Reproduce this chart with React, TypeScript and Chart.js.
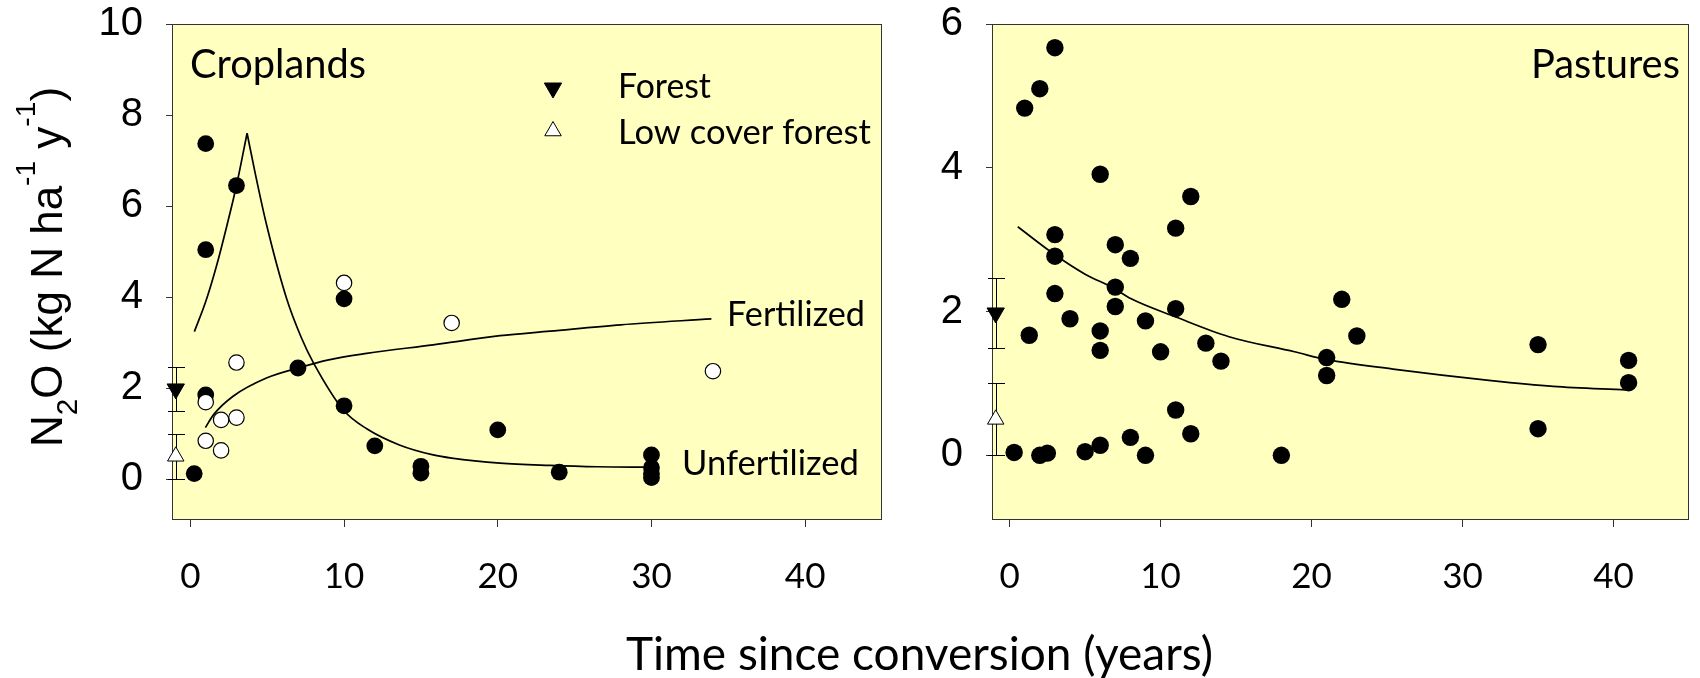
import React, { useEffect, useRef } from 'react';
import { Chart, registerables } from 'chart.js';

Chart.register(...registerables);

// ---------------- data ----------------
// Croplands – unfertilized (filled circles)
const cropUnfertX = [0.25, 1, 1, 1, 3, 7, 10, 10, 12, 15, 15, 20, 24, 30, 30, 30, 30];
const cropUnfertY = [0.12, 7.37, 5.04, 1.85, 6.45, 2.44, 3.96, 1.61, 0.73, 0.28, 0.13, 1.08, 0.15, 0.53, 0.25, 0.12, 0.03];
// Croplands – fertilized (open circles)
const cropFertX = [1, 1, 2, 2, 3, 3, 10, 17, 34];
const cropFertY = [1.69, 0.84, 1.3, 0.63, 2.56, 1.35, 4.31, 3.43, 2.37];

// Croplands fitted curves
const unfertRiseX = [0.26, 1.0, 1.69, 2.4, 3.0, 3.69];
const unfertRiseY = [3.24, 3.9, 4.67, 5.6, 6.45, 7.6];
const unfertDecayX = [3.69, 4.2, 4.95, 6.25, 7.23, 8.0, 10, 11.5, 13.6, 15.8, 17, 20.15, 23.4, 26.5, 30];
const unfertDecayY = [7.6, 6.75, 5.6, 3.98, 3.1, 2.56, 1.5, 1.1, 0.75, 0.53, 0.46, 0.35, 0.3, 0.27, 0.26];
const fertCurveX = [0.98, 1.5, 2.78, 4.95, 7.0, 9.0, 11.47, 15.8, 20.15, 23.4, 28, 33.9];
const fertCurveY = [1.13, 1.41, 1.82, 2.22, 2.44, 2.62, 2.76, 2.95, 3.15, 3.25, 3.39, 3.52];

// Pastures (filled circles)
const pastX = [1, 2, 3, 6, 12, 11, 3, 7, 8, 3, 7, 3, 7, 11, 4, 9, 22, 1.3, 6, 6, 10, 13, 14, 21, 21, 11, 12, 8, 6, 5, 9, 18, 0.3, 2, 2.5, 23, 35, 35, 41, 41];
const pastY = [4.83, 5.1, 5.67, 3.91, 3.6, 3.16, 3.07, 2.93, 2.74, 2.77, 2.34, 2.25, 2.07, 2.04, 1.9, 1.87, 2.17, 1.67, 1.73, 1.46, 1.44, 1.56, 1.31, 1.36, 1.11, 0.63, 0.3, 0.25, 0.14, 0.05, 0.0, 0.0, 0.04, 0.0, 0.03, 1.66, 1.54, 0.37, 1.32, 1.01];
const pastCurveX = [0.54, 3, 5, 6.94, 8.02, 11.06, 14.53, 18.87, 21.03, 25.4, 31.9, 36, 40.8];
const pastCurveY = [3.18, 2.79, 2.52, 2.32, 2.18, 1.92, 1.65, 1.44, 1.33, 1.2, 1.04, 0.96, 0.91];

// Reference (forest) markers with error bars
const cropRefX = [-0.95];
const pastRefX = [-0.92];
const forestMean = [1.98];
const forestErr = [0.49];
const lowForestMean = [0.5];
const lowForestErr = [0.5];

// axis ticks
const xTickStep = 10;
const cropYStep = 2;
const pastYStep = 2;

// ---------------- styling ----------------
const BG = '#FFFFC0';
const FRAME = '#333333';
const SANS = 'Lato';
const ARIAL = '"Liberation Sans", Arial, sans-serif';

type Pt = { x: number; y: number };
const pts = (xs: number[], ys: number[]): Pt[] => xs.map((x, i) => ({ x, y: ys[i] }));

const framePlugin = {
  id: 'frame',
  beforeDraw(chart: any) {
    const { ctx, chartArea: a } = chart;
    ctx.save();
    ctx.fillStyle = BG;
    ctx.fillRect(a.left, a.top, a.right - a.left, a.bottom - a.top);
    ctx.restore();
  },
  beforeDatasetsDraw(chart: any) {
    const { ctx, chartArea: a } = chart;
    ctx.save();
    ctx.strokeStyle = FRAME;
    ctx.lineWidth = 1;
    const l = Math.round(a.left) - 0.5;
    const t = Math.round(a.top) + 0.5;
    const r = Math.round(a.right) - 0.5;
    const b = Math.round(a.bottom) - 0.5;
    ctx.strokeRect(l, t, r - l, b - t);
    ctx.restore();
  },
};

function drawTriangle(ctx: CanvasRenderingContext2D, x: number, y: number, r: number, down: boolean, fill: string) {
  ctx.save();
  ctx.beginPath();
  let rad = down ? Math.PI : 0;
  for (let k = 0; k < 3; k++) {
    const px = x + Math.sin(rad) * r;
    const py = y - Math.cos(rad) * r;
    if (k === 0) ctx.moveTo(px, py);
    else ctx.lineTo(px, py);
    rad += (2 * Math.PI) / 3;
  }
  ctx.closePath();
  ctx.fillStyle = fill;
  ctx.fill();
  ctx.strokeStyle = '#000';
  ctx.lineWidth = 1;
  ctx.stroke();
  ctx.restore();
}

function fitFont(ctx: CanvasRenderingContext2D, text: string, family: string, target: number) {
  ctx.font = `100px ${family}`;
  const w = ctx.measureText(text).width;
  return (100 * target) / w;
}

function drawFitted(ctx: CanvasRenderingContext2D, text: string, left: number, baseline: number, width: number) {
  const size = fitFont(ctx, text, SANS, width);
  ctx.save();
  ctx.font = `${size}px ${SANS}`;
  ctx.fillStyle = '#000';
  ctx.textAlign = 'left';
  ctx.textBaseline = 'alphabetic';
  ctx.fillText(text, left, baseline);
  ctx.restore();
}

function drawErrorBars(chart: any, xs: number[], ys: number[], es: number[], halfCap: number) {
  const { ctx, scales } = chart;
  const sx = scales.x;
  const sy = scales.y;
  ctx.save();
  ctx.strokeStyle = '#000';
  ctx.lineWidth = 1;
  for (let i = 0; i < xs.length; i++) {
    const px = Math.round(sx.getPixelForValue(xs[i])) + 0.5;
    const top = Math.round(sy.getPixelForValue(ys[i] + es[i])) + 0.5;
    const bot = Math.round(sy.getPixelForValue(ys[i] - es[i])) + 0.5;
    ctx.beginPath();
    ctx.moveTo(px, top);
    ctx.lineTo(px, bot);
    ctx.moveTo(px - halfCap, top);
    ctx.lineTo(px + halfCap, top);
    ctx.moveTo(px - halfCap, bot);
    ctx.lineTo(px + halfCap, bot);
    ctx.stroke();
  }
  ctx.restore();
}

type Part = { t: string; sc: number; dy: number };
const yTitleParts: Part[] = [
  { t: 'N', sc: 1, dy: 0 },
  { t: '2', sc: 0.68, dy: 14.5 },
  { t: 'O (kg N ha', sc: 1, dy: 0 },
  { t: '-1', sc: 0.64, dy: -27 },
  { t: ' y', sc: 1, dy: 0 },
  { t: '-1', sc: 0.64, dy: -27 },
  { t: ')', sc: 1, dy: 0 },
];

function drawYTitle(ctx: CanvasRenderingContext2D, cx: number, cy: number, size: number) {
  ctx.save();
  ctx.translate(cx, cy);
  ctx.rotate(-Math.PI / 2);
  ctx.fillStyle = '#000';
  ctx.textBaseline = 'alphabetic';
  ctx.textAlign = 'left';
  let total = 0;
  const widths = yTitleParts.map((p) => {
    ctx.font = `${size * p.sc}px ${ARIAL}`;
    const w = ctx.measureText(p.t).width;
    total += w;
    return w;
  });
  let x = -total / 2;
  yTitleParts.forEach((p, i) => {
    ctx.font = `${size * p.sc}px ${ARIAL}`;
    ctx.fillText(p.t, x, p.dy);
    x += widths[i];
  });
  ctx.restore();
}

function zeroPad(s: any) {
  s.paddingTop = 0;
  s.paddingBottom = 0;
  s.paddingLeft = 0;
  s.paddingRight = 0;
}

function axes(xMin: number, xMax: number, yMin: number, yMax: number, yStep: number) {
  const grid = { drawOnChartArea: false, drawTicks: true, tickLength: 7, color: FRAME, lineWidth: 1 };
  return {
    x: {
      type: 'linear',
      position: 'bottom',
      min: xMin,
      max: xMax,
      afterFit: (s: any) => {
        s.height = 158;
        zeroPad(s);
      },
      grid,
      border: { display: false },
      ticks: {
        stepSize: xTickStep,
        includeBounds: false,
        autoSkip: false,
        maxRotation: 0,
        padding: 29,
        color: '#000',
        font: { family: SANS, size: 35 },
      },
    },
    y: {
      type: 'linear',
      position: 'left',
      min: yMin,
      max: yMax,
      afterFit: (s: any) => {
        s.width = 173;
        zeroPad(s);
      },
      grid,
      border: { display: false },
      ticks: {
        stepSize: yStep,
        includeBounds: false,
        autoSkip: false,
        padding: 23,
        color: '#000',
        font: { family: ARIAL, size: 40 },
      },
    },
  };
}

const curve = (xs: number[], ys: number[]) => ({
  data: pts(xs, ys),
  showLine: true,
  pointRadius: 0,
  borderColor: '#000',
  borderWidth: 1.7,
  cubicInterpolationMode: 'monotone',
  fill: false,
});

const refMarkers = (xs: number[]) => [
  {
    data: pts(xs, forestMean),
    pointStyle: 'triangle',
    rotation: 180,
    pointRadius: 10,
    backgroundColor: '#000',
    borderColor: '#000',
    borderWidth: 1,
    clip: false,
  },
  {
    data: pts(xs, lowForestMean),
    pointStyle: 'triangle',
    pointRadius: 9.5,
    backgroundColor: '#fff',
    borderColor: '#000',
    borderWidth: 1,
    clip: false,
  },
];

export default function App() {
  const c1 = useRef<HTMLCanvasElement>(null);
  const c2 = useRef<HTMLCanvasElement>(null);

  useEffect(() => {
    const cropDecor = {
      id: 'cropDecor',
      beforeDatasetsDraw(chart: any) {
        drawErrorBars(chart, cropRefX.concat(cropRefX), forestMean.concat(lowForestMean), forestErr.concat(lowForestErr), 8.5);
      },
      afterDraw(chart: any) {
        const ctx = chart.ctx as CanvasRenderingContext2D;
        drawFitted(ctx, 'Croplands', 190, 78, 176);
        drawTriangle(ctx, 553, 88, 10, true, '#000');
        drawTriangle(ctx, 553, 131, 9.5, false, '#fff');
        drawFitted(ctx, 'Forest', 618, 98, 93);
        drawFitted(ctx, 'Low cover forest', 618, 144, 253);
        drawFitted(ctx, 'Fertilized', 727, 325.5, 138);
        drawFitted(ctx, 'Unfertilized', 682, 475, 177);
        drawYTitle(ctx, 62, 267, 44);
        drawFitted(ctx, 'Time since conversion (years)', 626, 670, 587);
      },
    };
    const pastDecor = {
      id: 'pastDecor',
      beforeDatasetsDraw(chart: any) {
        drawErrorBars(chart, pastRefX.concat(pastRefX), forestMean.concat(lowForestMean), forestErr.concat(lowForestErr), 8.5);
      },
      afterDraw(chart: any) {
        const ctx = chart.ctx as CanvasRenderingContext2D;
        drawFitted(ctx, 'Pastures', 1531, 78, 149);
      },
    };

    const common = (padLeft: number, padRight: number) => ({
      responsive: false,
      animation: false,
      events: [],
      layout: { padding: { left: padLeft, right: padRight, top: 24, bottom: 0 } },
      plugins: { legend: { display: false }, tooltip: { enabled: false } },
    });

    const chart1 = new Chart(c1.current as HTMLCanvasElement, {
      type: 'scatter',
      data: {
        datasets: [
          {
            data: pts(cropFertX, cropFertY),
            pointRadius: 7.7,
            backgroundColor: '#fff',
            borderColor: '#000',
            borderWidth: 1.2,
          },
          {
            data: pts(cropUnfertX, cropUnfertY),
            pointRadius: 8.4,
            backgroundColor: '#000',
            borderColor: '#000',
            borderWidth: 0,
          },
          ...refMarkers(cropRefX),
          curve(unfertRiseX, unfertRiseY),
          curve(unfertDecayX, unfertDecayY),
          curve(fertCurveX, fertCurveY),
        ] as any,
      },
      options: { ...common(0, 1700 - 882), scales: axes(-1.13, 45, -0.9, 10, cropYStep) } as any,
      plugins: [framePlugin, cropDecor] as any,
    });

    const chart2 = new Chart(c2.current as HTMLCanvasElement, {
      type: 'scatter',
      data: {
        datasets: [
          {
            data: pts(pastX, pastY),
            pointRadius: 8.7,
            backgroundColor: '#000',
            borderColor: '#000',
            borderWidth: 0,
          },
          ...refMarkers(pastRefX),
          curve(pastCurveX, pastCurveY),
        ] as any,
      },
      options: { ...common(993 - 173, 0), scales: axes(-1.1, 45, -0.9, 6, pastYStep) } as any,
      plugins: [framePlugin, pastDecor] as any,
    });

    return () => {
      chart1.destroy();
      chart2.destroy();
    };
  }, []);

  const cs: React.CSSProperties = { position: 'absolute', left: 0, top: 0, width: 1700, height: 678 };
  return (
    <div style={{ position: 'fixed', left: 0, top: 0, width: 1700, height: 678, background: '#fff', overflow: 'hidden' }}>
      <canvas ref={c1} width={1700} height={678} style={cs} />
      <canvas ref={c2} width={1700} height={678} style={cs} />
    </div>
  );
}
